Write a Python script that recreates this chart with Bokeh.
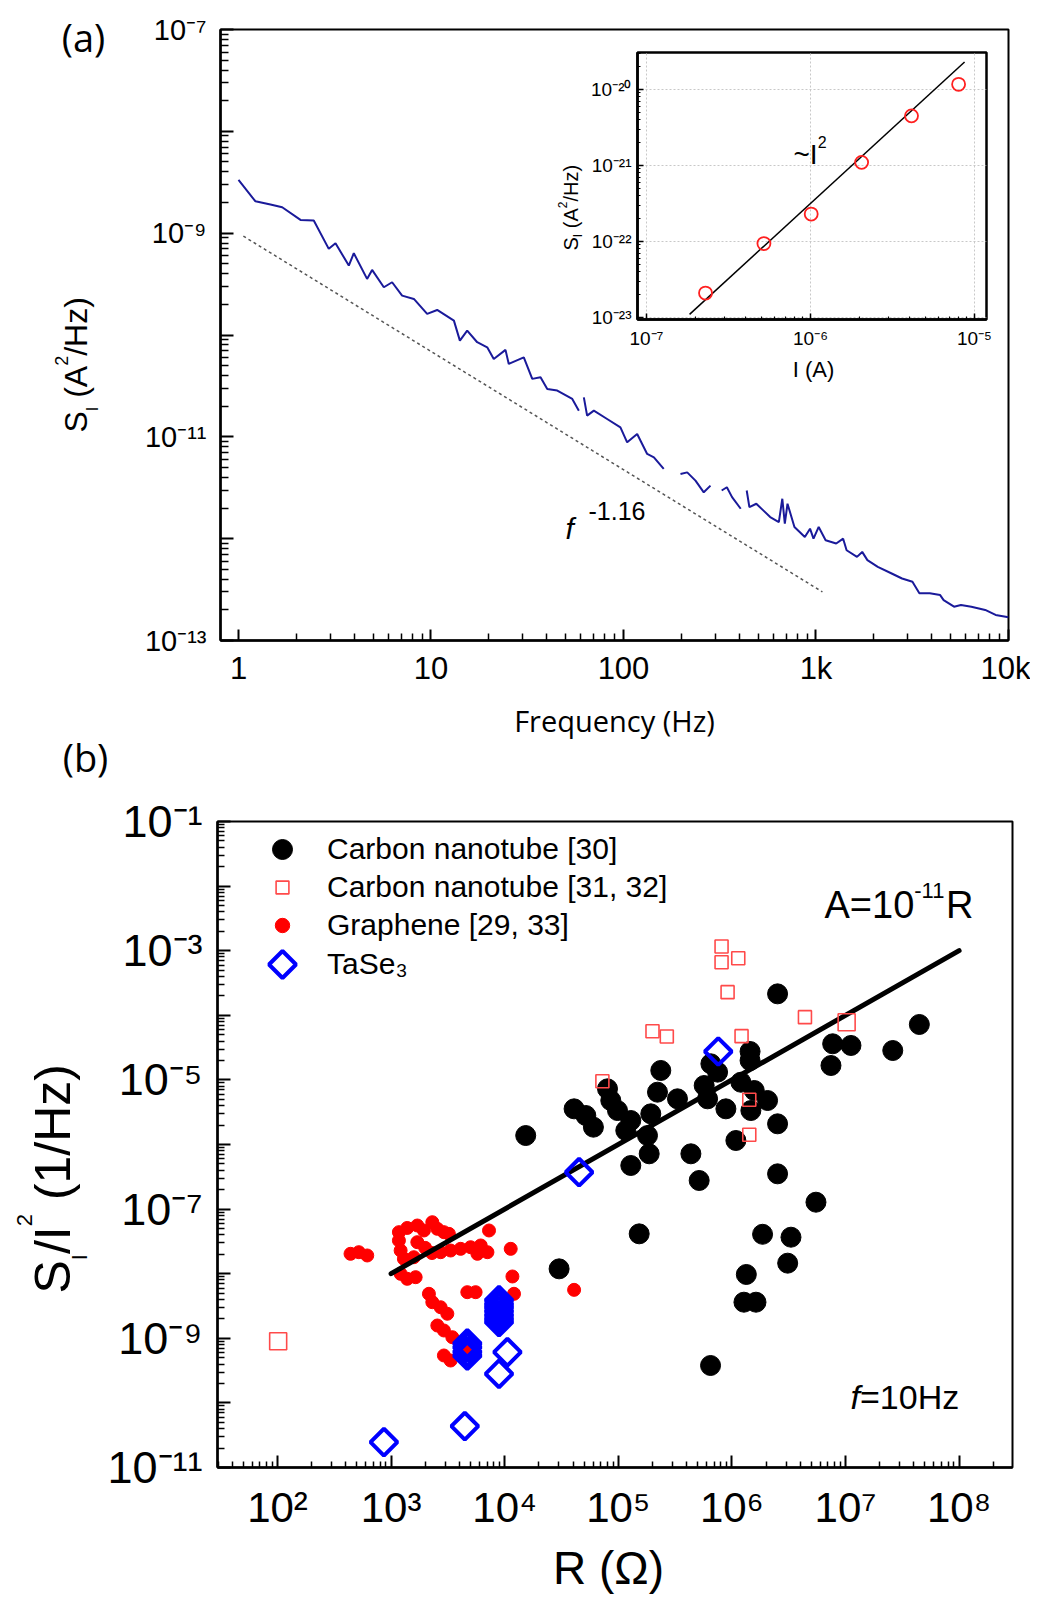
import math
import numpy as np
from bokeh.plotting import figure
from bokeh.layouts import column
from bokeh.models import (Range1d, FixedTicker, Label, Legend, LegendItem,
                          PolyAnnotation, GridBox, ColumnDataSource)
from bokeh.embed import file_html
from bokeh.resources import INLINE

GAP = float("nan")

# ---------------- panel (a): noise spectrum (log10 values) ----------------
curve_log10_f = [0.000, 0.088, 0.166, 0.227, 0.322, 0.391, 0.469, 0.504, 0.573, 0.599, 0.668, 0.694,
                 0.755, 0.798, 0.850, 0.911, 0.980, 1.032, 1.119, 1.150, 1.188, 1.240, 1.292, 1.326,
                 1.387, 1.404, 1.482, 1.526, 1.569, 1.604, 1.656, 1.734, 1.768, GAP,
                 1.794, 1.811, 1.846, 1.915, 1.984, 2.019, 2.071, 2.123, 2.158, 2.209, GAP,
                 2.296, 2.331, 2.374, 2.417, 2.452, GAP,
                 2.510, 2.537, 2.564, 2.609, GAP,
                 2.640, 2.654, 2.690, 2.726, 2.762, 2.807, 2.825, 2.838, 2.852, 2.888, 2.942, 2.969,
                 2.987, 3.014, 3.050, 3.105, 3.141, 3.159, 3.213, 3.240, 3.267, 3.321, 3.393, 3.447,
                 3.501, 3.537, 3.591, 3.645, 3.663, 3.717, 3.753, 3.807, 3.879, 3.933, 4.000]
curve_log10_S = [-8.476, -8.687, -8.719, -8.745, -8.870, -8.876, -9.154, -9.099, -9.318, -9.197, -9.449, -9.361,
                 -9.531, -9.482, -9.613, -9.646, -9.793, -9.754, -9.859, -10.055, -9.957, -10.071, -10.121, -10.235,
                 -10.146, -10.284, -10.219, -10.431, -10.415, -10.530, -10.546, -10.628, -10.743, GAP,
                 -10.612, -10.792, -10.743, -10.825, -10.907, -11.054, -10.972, -11.168, -11.201, -11.315, GAP,
                 -11.365, -11.349, -11.430, -11.545, -11.479, GAP,
                 -11.527, -11.495, -11.592, -11.706, GAP,
                 -11.527, -11.690, -11.657, -11.722, -11.788, -11.837, -11.608, -11.853, -11.657, -11.885, -11.983, -11.902,
                 -12.000, -11.885, -12.015, -12.048, -12.000, -12.114, -12.179, -12.130, -12.211, -12.277, -12.342, -12.391,
                 -12.423, -12.537, -12.537, -12.554, -12.603, -12.668, -12.652, -12.668, -12.700, -12.749, -12.772]
fit_f = [1.06, 1080.0]
fit_S = [9.35e-10, 3.0e-13]

# inset: S_I vs I
inset_I = [2.29e-7, 5.2e-7, 1.01e-6, 2.05e-6, 4.13e-6, 8.0e-6]
inset_S = [2.1e-23, 9.4e-23, 2.3e-22, 1.1e-21, 4.5e-21, 1.17e-20]
inset_fit_I = [1.83e-7, 8.7e-6]
inset_fit_S = [1.1e-23, 2.3e-20]

# ---------------- panel (b): S_I/I^2 vs R (log10 values) ----------------
cnt30_log10_R = [4.185, 4.611, 4.714, 4.781, 4.905, 4.934, 4.993, 5.110, 5.066, 5.257, 5.286, 5.345,
                 5.374, 5.272, 5.110, 5.521, 5.639, 5.712, 5.756, 5.786, 5.815, 5.874, 5.947, 6.035,
                 6.160, 6.160, 6.167, 5.184, 6.270, 6.402, 7.650, 6.887, 7.048, 7.416, 6.872, 6.079,
                 6.197, 6.314, 6.402, 6.402, 6.740, 6.520, 6.491, 6.127, 6.106, 6.212, 4.479, 5.812]
cnt30_log10_SI2 = [-5.861, -5.448, -5.551, -5.732, -5.138, -5.319, -5.474, -5.628, -5.783, -5.861, -5.525, -5.190,
                   -4.854, -6.144, -6.325, -5.293, -6.144, -6.557, -5.087, -5.293, -4.751, -4.880, -5.448, -5.938,
                   -4.560, -4.700, -5.474, -7.383, -7.390, -3.668, -4.142, -4.441, -4.467, -4.545, -4.777, -5.036,
                   -5.164, -5.319, -5.680, -6.454, -6.893, -7.435, -7.837, -8.012, -8.441, -8.441, -7.925, -9.421]

cnt3132_log10_R = [5.909, 5.909, 6.056, 5.962, 6.643, 7.010, 6.085, 5.427, 5.301, 6.153, 6.153, 4.860, 2.006]
cnt3132_log10_SI2 = [-2.935, -3.178, -3.116, -3.642, -4.029, -4.107, -4.323, -4.328, -4.246, -5.308, -5.850, -5.020, -9.045]
cnt3132_big = [0, 0, 0, 0, 0, 1, 0, 0, 0, 0, 0, 0, 1]

graphene_log10_R = [2.643, 2.716, 2.790, 3.069, 3.069, 3.084, 3.113, 3.142, 3.231, 3.289, 3.363, 3.407,
                    3.465, 3.509, 3.200, 3.231, 3.084, 3.142, 3.216, 3.436, 3.524, 3.612, 3.700, 3.789,
                    3.848, 3.760, 3.862, 4.053, 4.068, 4.082, 3.671, 3.744, 3.333, 3.363, 3.436, 3.495,
                    3.407, 3.465, 3.539, 3.465, 3.524, 3.656, 4.611, 3.300, 3.360]
graphene_log10_SI2 = [-7.692, -7.667, -7.718, -7.357, -7.486, -7.641, -7.770, -7.292, -7.254, -7.331, -7.203, -7.305,
                      -7.357, -7.383, -7.745, -7.512, -8.002, -8.079, -8.054, -7.667, -7.641, -7.615, -7.590, -7.563,
                      -7.667, -7.692, -7.331, -7.615, -8.043, -8.311, -8.286, -8.286, -8.311, -8.441, -8.519, -8.620,
                      -8.802, -8.879, -8.983, -9.266, -9.344, -9.189, -8.250, -7.600, -7.680]

tase3_log10_R = [3.950, 3.950, 3.950, 3.950, 3.950, 3.950, 3.950, 3.671, 3.671, 3.671, 3.671,
                 4.024, 3.950, 3.649, 2.937, 4.655, 5.880]
tase3_log10_SI2 = [-8.41, -8.47, -8.52, -8.58, -8.64, -8.70, -8.75, -9.08, -9.14, -9.21, -9.27,
                   -9.215, -9.550, -10.36, -10.608, -6.429, -4.560]

trend_R = [1e3, 1e8]
trend_SI2 = [1e-8, 1e-3]

legend_labels = ["Carbon nanotube [30]", "Carbon nanotube [31, 32]", "Graphene [29, 33]", "TaSe\u2083"]

# ---------------- helpers ----------------
SUP = str.maketrans("-0123456789", "\u207b\u2070\u00b9\u00b2\u00b3\u2074\u2075\u2076\u2077\u2078\u2079")


def pow10(e):
    return "10" + str(e).translate(SUP)


W = {' ': 0.278, '(': 0.333, ')': 0.333, '/': 0.278, '-': 0.333, '.': 0.278, '=': 0.584, '~': 0.584,
     'A': 0.667, 'H': 0.722, 'I': 0.278, 'R': 0.722, 'S': 0.667, 'f': 0.278, 'z': 0.5}


def tw(s, size):
    return sum(W.get(c, 0.556) for c in s) * size


def style_axis(ax, ticks, minor, labels, font_size, standoff, maj_in, min_in, lw=2.5, tlw=2.0):
    ax.ticker = FixedTicker(ticks=ticks, minor_ticks=minor)
    ax.major_label_overrides = dict(zip(ticks, labels))
    ax.axis_line_width = lw
    ax.axis_line_color = "black"
    ax.major_tick_in = maj_in
    ax.major_tick_out = 0
    ax.minor_tick_in = min_in
    ax.minor_tick_out = 0
    ax.major_tick_line_width = tlw
    ax.minor_tick_line_width = tlw * 0.75
    ax.major_tick_line_color = "black"
    ax.minor_tick_line_color = "black"
    ax.major_label_text_font = "Liberation Sans"
    ax.major_label_text_font_size = f"{font_size}px"
    ax.major_label_text_color = "black"
    ax.major_label_standoff = standoff


# ---------------- panel (a) ----------------
pa = figure(width=1030, height=738, x_axis_type="log", y_axis_type="log",
            x_range=Range1d(10 ** -0.0935, 1e4), y_range=Range1d(1e-13, 1e-7),
            min_border_left=220, min_border_right=22, min_border_top=29, min_border_bottom=98,
            output_backend="svg", toolbar_location=None, title=None,
            background_fill_color="white", border_fill_color="white")
pa.grid.visible = False
pa.outline_line_color = "black"
pa.outline_line_width = 2

ax_ticks = [1.0, 10.0, 100.0, 1000.0, 10000.0]
ax_minor = [m * 10.0 ** e for e in range(0, 4) for m in range(2, 10)]
style_axis(pa.xaxis[0], ax_ticks, ax_minor, ["1", "10", "100", "1k", "10k"], 31, 10, 11, 7)
ay_ticks = [10.0 ** e for e in range(-13, -6)]
ay_minor = [m * 10.0 ** e for e in range(-13, -7) for m in range(2, 10)]
ay_labels = [pow10(e) if e % 2 else "" for e in range(-13, -6)]
style_axis(pa.yaxis[0], ay_ticks, ay_minor, ay_labels, 29, 14, 13, 8)

freq = 10 ** np.array(curve_log10_f, dtype=float)
spec = 10 ** np.array(curve_log10_S, dtype=float)
pa.line(fit_f, fit_S, line_color="#555555", line_width=1.5, line_dash="3 3")
pa.line(freq, spec, line_color="#1a1a9a", line_width=2)

# ---------------- inset ----------------
inset = figure(width=447, height=338, x_axis_type="log", y_axis_type="log",
               x_range=Range1d(10 ** -7.0549, 10 ** -4.9268), y_range=Range1d(10 ** -23.026, 10 ** -19.513),
               min_border_left=84, min_border_right=14, min_border_top=8, min_border_bottom=63,
               output_backend="svg", toolbar_location=None, title=None,
               background_fill_color="white", border_fill_color=None)
inset.outline_line_color = "black"
inset.outline_line_width = 2.5
ix_ticks = [1e-7, 1e-6, 1e-5]
ix_minor = [m * t for t in ix_ticks[:2] for m in range(2, 10)]
style_axis(inset.xaxis[0], ix_ticks, ix_minor, [pow10(-7), pow10(-6), pow10(-5)], 19, 8, 6, 3, lw=2.5, tlw=1.5)
iy_ticks = [10.0 ** e for e in range(-23, -19)]
iy_minor = [m * 10.0 ** e for e in range(-23, -19) for m in range(2, 10)]
style_axis(inset.yaxis[0], iy_ticks, iy_minor, [pow10(e) for e in range(-23, -19)], 19, 6, 6, 3, lw=2.5, tlw=1.5)
inset.grid.grid_line_color = "#c8c8c8"
inset.grid.grid_line_dash = "2 2"
inset.grid.grid_line_width = 1
inset.line(inset_fit_I, inset_fit_S, line_color="black", line_width=1.5)
inset.scatter(inset_I, inset_S, marker="circle", size=13, fill_color=None, line_color="#ff2020", line_width=1.8)

# ---------------- panel (b) ----------------
pb = figure(width=1030, height=857, x_axis_type="log", y_axis_type="log",
            x_range=Range1d(10 ** 1.472, 10 ** 8.47), y_range=Range1d(1e-11, 1e-1),
            min_border_left=217, min_border_right=18, min_border_top=83, min_border_bottom=128,
            output_backend="svg", toolbar_location=None, title=None,
            background_fill_color="white", border_fill_color="white")
pb.grid.visible = False
pb.outline_line_color = "black"
pb.outline_line_width = 2

bx_ticks = [10.0 ** e for e in range(1, 9)]
bx_minor = [m * 10.0 ** e for e in range(1, 9) for m in range(2, 10)]
style_axis(pb.xaxis[0], bx_ticks, bx_minor, [pow10(e) for e in range(1, 9)], 42, 16, 12, 6)
by_ticks = [10.0 ** e for e in range(-11, 0)]
by_minor = [m * 10.0 ** e for e in range(-11, -1) for m in range(2, 10)]
style_axis(pb.yaxis[0], by_ticks, by_minor, [pow10(e) if e % 2 else "" for e in range(-11, 0)], 45, 15, 13, 7)

src_cnt30 = ColumnDataSource(dict(x=10 ** np.array(cnt30_log10_R), y=10 ** np.array(cnt30_log10_SI2)))
src_cnt3132 = ColumnDataSource(dict(x=10 ** np.array(cnt3132_log10_R), y=10 ** np.array(cnt3132_log10_SI2),
                                    s=[17 if b else 13 for b in cnt3132_big]))
src_gr = ColumnDataSource(dict(x=10 ** np.array(graphene_log10_R), y=10 ** np.array(graphene_log10_SI2)))
src_ta = ColumnDataSource(dict(x=10 ** np.array(tase3_log10_R), y=10 ** np.array(tase3_log10_SI2)))

r_cnt30 = pb.scatter("x", "y", source=src_cnt30, marker="circle", size=20, color="black")
r_gr = pb.scatter("x", "y", source=src_gr, marker="circle", size=13, color="#ff0000")
pb.line(trend_R, trend_SI2, line_color="black", line_width=5, line_cap="round")
r_cnt3132 = pb.scatter("x", "y", source=src_cnt3132, marker="square", size="s", fill_color=None,
                       line_color="#ff4a4a", line_width=1.6)
r_ta = pb.scatter("x", "y", source=src_ta, marker="square", angle=math.pi / 4, size=19,
                  fill_color=None, line_color="#0000ff", line_width=4)
r_proxy = pb.scatter(x=[], y=[], marker="square", size=1, fill_alpha=0, line_alpha=0)


def add_legend(label, renderer, loc, gw, gh, standoff):
    lg = Legend(items=[LegendItem(label=label, renderers=[renderer])], location=loc,
                glyph_width=gw, glyph_height=gh, label_height=gh, label_standoff=standoff,
                padding=0, margin=0, border_line_color=None, background_fill_alpha=0,
                label_text_font="Liberation Sans", label_text_font_size="30px", label_text_color="black")
    pb.add_layout(lg)


add_legend(legend_labels[0], r_cnt30, (40, 593), 50, 50, 20)
add_legend(legend_labels[1], r_cnt3132, (49, 560), 32, 40, 29)
add_legend(legend_labels[2], r_gr, (47, 522), 36, 40, 27)
add_legend(legend_labels[3], r_proxy, (40, 483), 50, 40, 20)
pb.add_layout(PolyAnnotation(xs=[51.5, 65, 78.5, 65], ys=[503, 516.5, 503, 489.5],
                             xs_units="screen", ys_units="screen", fill_alpha=0,
                             line_color="#0000ff", line_alpha=1.0, line_width=4))

# ---------------- text overlay (page pixel coordinates, y downward) ----------------
OV_W, OV_H = 1030, 1595
ov = figure(width=OV_W, height=OV_H, x_range=Range1d(0, OV_W), y_range=Range1d(OV_H, 0),
            x_axis_location=None, y_axis_location=None, min_border=0,
            output_backend="svg", toolbar_location=None, title=None,
            background_fill_color=None, border_fill_color=None, outline_line_color=None)
ov.grid.visible = False


def txt(x, y, text, size, font="Liberation Sans", align="left", style="normal", vertical=False, on_baseline=True):
    # (x, y) is the baseline anchor; text is drawn centred on its mid-line
    if on_baseline:
        if vertical:
            x = x - 0.35 * size
        else:
            y = y - 0.35 * size
    ov.add_layout(Label(x=x, y=y, text=text, angle=(math.pi / 2 if vertical else 0.0),
                        text_font=font, text_font_size=f"{size}px", text_font_style=style,
                        text_align=align, text_baseline="middle", text_color="black"))


def rich(pieces, x, y, vertical=False):
    pos = 0.0
    for text, size, rise, style in pieces:
        lead = len(text) - len(text.lstrip(" "))
        pos += tw(" " * lead, size)
        text = text.lstrip(" ")
        if vertical:
            txt(x - rise, y - pos, text, size, style=style, vertical=True)
        else:
            txt(x + pos, y - rise, text, size, style=style)
        pos += tw(text, size)


txt(83, 36, "(a)", 38, font="Open Sans", align="center", on_baseline=False)
txt(85, 756, "(b)", 38, font="Open Sans", align="center", on_baseline=False)
txt(614, 730, "Frequency (Hz)", 29, font="Open Sans", align="center")
txt(608, 1584, "R (\u03a9)", 46, align="center")
txt(813, 377, "I (A)", 22, align="center")
rich([("S", 32, 0, "normal"), ("I", 16, -11, "normal"), (" (A", 32, 0, "normal"),
      ("2", 18, 20, "normal"), ("/Hz)", 32, 0, "normal")], 87, 432, vertical=True)
rich([("S", 20, 0, "normal"), ("I", 12, -5, "normal"), (" (A", 20, 0, "normal"),
      ("2", 12, 11, "normal"), ("/Hz)", 20, 0, "normal")], 577, 250, vertical=True)
rich([("S", 50, 0, "normal"), ("I", 22, -17, "normal"), ("/I", 50, 0, "normal"),
      ("2", 22, 38, "normal"), (" (1/Hz)", 50, 0, "normal")], 70, 1293, vertical=True)
rich([("f", 30, 0, "italic")], 565, 538)
rich([("-1.16", 25, 0, "normal")], 588, 519)
rich([("~I", 28, 0, "normal"), ("2", 16, 17, "normal")], 793, 164)
rich([("A=10", 38, 0, "normal"), ("-11", 22, 20, "normal"), ("R", 38, 0, "normal")], 824, 918)
rich([("f", 34, 0, "italic"), ("=10Hz", 34, 0, "normal")], 850, 1408)

grid = GridBox(children=[(column(pa), 0, 0),
                         (column(inset, margin=(44, 0, 0, 553)), 0, 0),
                         (column(pb), 1, 0),
                         (column(ov), 0, 0, 2, 1)], spacing=0)

open("out.html", "w").write(file_html(grid, INLINE))
